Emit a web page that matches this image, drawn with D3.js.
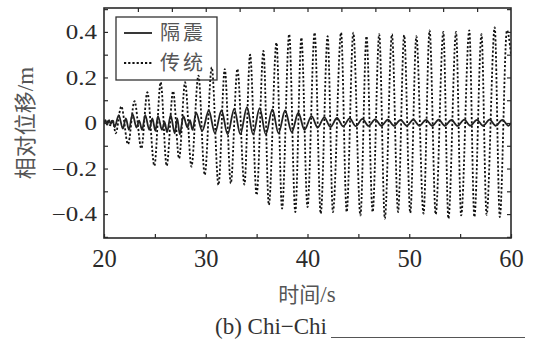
<!DOCTYPE html>
<html><head><meta charset="utf-8">
<script src="https://cdn.jsdelivr.net/npm/d3@7"></script>
<style>
html,body{margin:0;padding:0;background:#fff;}
svg{display:block;}
</style></head>
<body>
<script>
// ---- data ----
const tradT = [20, 20.3, 20.6, 20.85, 21.15, 21.7, 22.36, 23.0, 23.67, 24.26, 24.95, 25.57, 26.16, 26.79, 27.38, 27.97, 28.59, 29.28, 29.9, 30.59, 31.25, 31.87, 32.46, 33.11, 33.8, 34.36, 35.0, 35.67, 36.2, 36.95, 37.5, 38.2, 38.8, 39.4, 40.0, 40.7, 41.3, 41.98, 42.5, 43.3, 43.85, 44.5, 45.2, 45.8, 46.4, 47.05, 47.6, 48.3, 48.9, 49.5, 50.1, 50.7, 51.4, 52.0, 52.6, 53.35, 53.85, 54.6, 55.1, 55.9, 56.4, 57.1, 57.6, 58.4, 58.9, 59.6, 60.0];
const tradV = [0, 0.01, -0.01, 0.015, -0.045, 0.073, -0.093, 0.096, -0.112, 0.135, -0.188, 0.179, -0.188, 0.14, -0.156, 0.179, -0.192, 0.208, -0.228, 0.244, -0.272, 0.237, -0.265, 0.237, -0.27, 0.30, -0.316, 0.317, -0.36, 0.353, -0.376, 0.39, -0.391, 0.375, -0.369, 0.397, -0.398, 0.381, -0.391, 0.397, -0.391, 0.397, -0.406, 0.381, -0.391, 0.39, -0.42, 0.39, -0.391, 0.386, -0.395, 0.381, -0.398, 0.407, -0.401, 0.40, -0.42, 0.40, -0.406, 0.407, -0.413, 0.39, -0.403, 0.42, -0.413, 0.407, 0.3];

const isoT = [20.0, 20.15, 20.3, 20.5, 20.65, 20.85, 21.05, 21.45, 21.85, 22.15, 22.45, 22.8, 23.2, 23.45, 23.75, 24.05, 24.45, 24.75, 25.05, 25.3, 25.7, 25.95, 26.2, 26.55, 26.95, 27.2, 27.45, 27.8, 28.2, 28.45, 28.7, 29.05, 29.65, 30.3, 30.9, 31.55, 32.15, 32.8, 33.4, 34.05, 34.65, 35.3, 35.9, 36.55, 37.15, 37.8, 38.45, 39.1, 39.7, 40.4, 41.0, 41.65, 42.25, 42.9, 43.5, 44.15, 44.75, 45.4, 46.0, 46.65, 47.25, 47.9, 48.5, 49.15, 49.75, 50.4, 51.0, 51.65, 52.25, 52.9, 53.5, 54.15, 54.75, 55.4, 56.0, 56.65, 57.25, 57.9, 58.5, 59.15, 59.75, 60.0];
const isoV = [0.0, 0.012, -0.008, 0.012, -0.004, 0.01, -0.018, 0.035, -0.025, 0.02, -0.03, 0.04, -0.02, 0.01, -0.03, 0.035, -0.03, 0.02, -0.035, 0.03, -0.03, 0.005, -0.04, 0.035, -0.045, 0.02, -0.05, 0.03, -0.02, 0.012, -0.03, 0.045, -0.035, 0.055, -0.045, 0.055, -0.05, 0.062, -0.05, 0.07, -0.05, 0.065, -0.05, 0.06, -0.045, 0.055, -0.04, 0.045, -0.03, 0.03, -0.02, 0.025, -0.018, 0.022, -0.015, 0.02, -0.014, 0.018, -0.013, 0.016, -0.012, 0.015, -0.012, 0.014, -0.012, 0.015, -0.012, 0.014, -0.012, 0.015, -0.012, 0.014, -0.013, 0.015, -0.012, 0.014, -0.012, 0.015, -0.012, 0.014, -0.012, 0.0];

const xMajor = [20, 30, 40, 50, 60];
const xMinor = [25, 35, 45, 55];
const xTop = [23.33, 26.67, 30, 33.33, 36.67, 40, 43.33, 46.67, 50, 53.33, 56.67];
const yMajor = [-0.4, -0.2, 0, 0.2, 0.4];
const yMajorLabels = ["\u22120.4", "\u22120.2", "0", "0.2", "0.4"];
const yMinor = [-0.5, -0.3, -0.1, 0.1, 0.3, 0.5];
const legendNames = ["隔震", "传统"];

// ---- layout ----
const W = 535, H = 341;
const L = 104, R = 511, T = 8, B = 238;
const serif = "'Liberation Serif','Times New Roman',serif";
const cjk = "'Noto Sans CJK SC','Noto Sans CJK JP',sans-serif";
const ink = "#2a2a2a";

const svg = d3.select("body").append("svg").attr("width", W).attr("height", H);

const x = d3.scaleLinear().domain([20, 60]).range([L, R]);
const y = d3.scaleLinear().domain([-0.505, 0.505]).range([B, T]);

svg.append("clipPath").attr("id", "clip").append("rect")
  .attr("x", L).attr("y", T).attr("width", R - L).attr("height", B - T);

const line = d3.line().x(d => x(d[0])).y(d => y(d[1])).curve(d3.curveMonotoneX);
const tradData = tradT.map((t, i) => [t, tradV[i]]);
const isoData = isoT.map((t, i) => [t, isoV[i]]);

const plot = svg.append("g").attr("clip-path", "url(#clip)");
plot.append("path").datum(tradData).attr("d", line)
  .attr("fill", "none").attr("stroke", "#111").attr("stroke-width", 1.8)
  .attr("stroke-dasharray", "2.2,2");
plot.append("path").datum(isoData).attr("d", line)
  .attr("fill", "none").attr("stroke", "#222").attr("stroke-width", 1.8)
  .attr("stroke-linejoin", "round");

function styleAxis(g) {
  g.select(".domain").remove();
  g.selectAll(".tick line").attr("stroke", ink).attr("stroke-width", 1.2);
}
const gx = svg.append("g").attr("transform", `translate(0,${B})`)
  .call(d3.axisBottom(x).tickValues(xMajor).tickSizeInner(-4).tickSizeOuter(0).tickPadding(12).tickFormat(d3.format("d")));
styleAxis(gx);
gx.selectAll("text").attr("font-family", serif).attr("font-size", 24.5).attr("fill", ink);
styleAxis(svg.append("g").attr("transform", `translate(0,${B})`)
  .call(d3.axisBottom(x).tickValues(xMinor).tickSizeInner(-4).tickSizeOuter(0).tickFormat("")));
styleAxis(svg.append("g").attr("transform", `translate(0,${T})`)
  .call(d3.axisTop(x).tickValues(xTop).tickSizeInner(-4).tickSizeOuter(0).tickFormat("")));
const gy = svg.append("g").attr("transform", `translate(${L},0)`)
  .call(d3.axisLeft(y).tickValues(yMajor).tickSizeInner(-4).tickSizeOuter(0)
    .tickFormat((d, i) => yMajorLabels[i]));
styleAxis(gy);
gy.selectAll("text").attr("font-family", serif).attr("font-size", 20).attr("fill", ink)
  .attr("x", -7 / 1.25).attr("dy", "0.34em").attr("transform", "scale(1.25,1)");
styleAxis(svg.append("g").attr("transform", `translate(${L},0)`)
  .call(d3.axisLeft(y).tickValues(yMinor).tickSizeInner(-4).tickSizeOuter(0).tickFormat("")));
styleAxis(svg.append("g").attr("transform", `translate(${R},0)`)
  .call(d3.axisRight(y).tickValues(yMajor.concat(yMinor)).tickSizeInner(-4).tickSizeOuter(0).tickFormat("")));

svg.append("rect").attr("x", L).attr("y", T).attr("width", R - L).attr("height", B - T)
  .attr("fill", "none").attr("stroke", ink).attr("stroke-width", 1.6);

// legend
const lg = svg.append("g");
lg.append("rect").attr("x", 116).attr("y", 17).attr("width", 101).attr("height", 63)
  .attr("fill", "none").attr("stroke", "#333").attr("stroke-width", 1.3);
const legY = [33, 63];
lg.append("line").attr("x1", 124).attr("x2", 152).attr("y1", legY[0]).attr("y2", legY[0])
  .attr("stroke", "#222").attr("stroke-width", 1.8);
lg.append("line").attr("x1", 124).attr("x2", 152).attr("y1", legY[1]).attr("y2", legY[1])
  .attr("stroke", "#111").attr("stroke-width", 1.8).attr("stroke-dasharray", "2.2,2");
legendNames.forEach((n, i) => {
  lg.append("text").attr("x", 160).attr("y", legY[i]).attr("dy", "0.36em")
    .attr("font-family", cjk).attr("font-size", 20).attr("letter-spacing", 3)
    .attr("fill", "#555").text(n);
});

// y label
const yl = svg.append("text").attr("transform", "translate(33,123) rotate(-90)")
  .attr("text-anchor", "middle").attr("fill", "#555");
yl.append("tspan").attr("font-family", cjk).attr("font-size", 22).text("相对位移");
yl.append("tspan").attr("font-family", serif).attr("font-size", 23).text("/m");

// x label
const xl = svg.append("text").attr("x", 307).attr("y", 302)
  .attr("text-anchor", "middle").attr("fill", "#555");
xl.append("tspan").attr("font-family", cjk).attr("font-size", 21).text("时间");
xl.append("tspan").attr("font-family", serif).attr("font-size", 23).text("/s");

// caption
svg.append("text").attr("x", 271).attr("y", 334).attr("text-anchor", "middle")
  .attr("font-family", serif).attr("font-size", 23).attr("fill", "#333").text("(b) Chi\u2212Chi");
svg.append("line").attr("x1", 331).attr("x2", 525).attr("y1", 337.5).attr("y2", 337.5)
  .attr("stroke", "#555").attr("stroke-width", 1.2);
</script>
</body></html>
